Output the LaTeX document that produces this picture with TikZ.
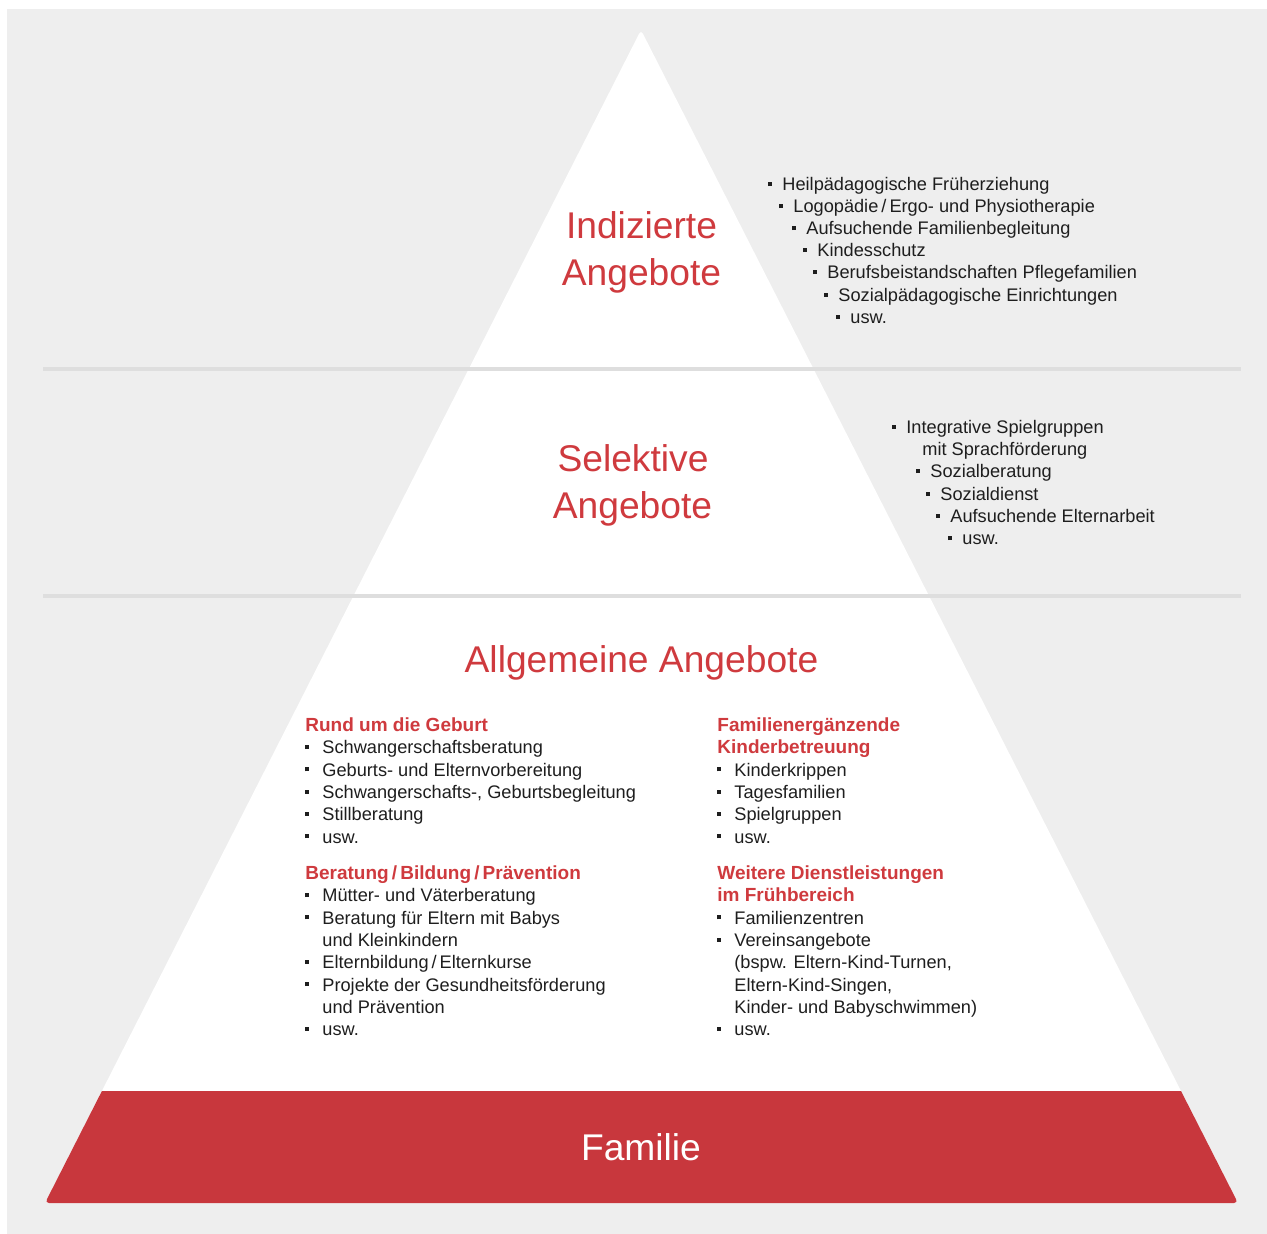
\documentclass[tikz,border=0pt]{standalone}
\usepackage{fontspec}
\setmainfont{Liberation Sans}
\usepackage{xcolor}

\definecolor{bandred}{HTML}{C8373D}
\definecolor{titlered}{HTML}{CF3A3E}
\definecolor{backgray}{HTML}{EEEEEE}
\definecolor{linegray}{HTML}{DEDEDE}
\definecolor{bodytext}{HTML}{1E1E1E}

% square bullets hanging left of the text
\newcommand\bul{\llap{\rule[2.4pt]{2pt}{2pt}\hspace{5pt}}}
\newcommand\bulw{\llap{\rule[2.4pt]{2pt}{2pt}\hspace{6.5pt}}}

\tikzset{
  tiertitle/.style={anchor=base, inner sep=0pt, text=titlered, font=\fontsize{18.6}{22}\selectfont},
  listitem/.style={anchor=base west, inner sep=0pt, text=bodytext, font=\fontsize{9.1}{11}\selectfont},
  listhead/.style={listitem, text=titlered, font=\fontsize{9.5}{11}\selectfont\bfseries},
}

\begin{document}
\begin{tikzpicture}[x=0.5pt, y=-0.5pt]
\useasboundingbox (0,0) rectangle (1267,1234);
\fill[backgray] (7,9) rectangle (1267,1234);

\coordinate (apex) at (641,30);
\coordinate (baseL) at (45,1203);
\coordinate (baseR) at (1238,1203);

\fill[white, rounded corners=2pt] (apex) -- (baseR) -- (baseL) -- cycle;
\begin{scope}
\clip[rounded corners=2pt] (apex) -- (baseR) -- (baseL) -- cycle;
\fill[bandred] (0,1091) rectangle (1267,1220);
\end{scope}

\draw[linegray, line width=2pt] (43,369) -- (1241,369);
\draw[linegray, line width=2pt] (43,596) -- (1241,596);

\node[tiertitle] (ind1) at (641.5,239) {Indizierte};
\node[tiertitle] (ind2) at (641.5,286) {Angebote};
\node[tiertitle] (sel1) at (633,472) {Selektive};
\node[tiertitle] (sel2) at (632.5,519) {Angebote};
\node[tiertitle] (allg) at (641.5,672) {Allgemeine Angebote};
\node[tiertitle, text=white] (fam) at (641,1160) {Familie};

\node[listitem] (ind-a) at (782,191) {\bul Heilpädagogische Früherziehung};
\node[listitem] (ind-b) at (793,213) {\bul Logopädie\,/\,Ergo- und Physiotherapie};
\node[listitem] (ind-c) at (806,235) {\bul Aufsuchende Familienbegleitung};
\node[listitem] (ind-d) at (817,257) {\bul Kindesschutz};
\node[listitem] (ind-e) at (827,279) {\bul Berufsbeistandschaften Pflegefamilien};
\node[listitem] (ind-f) at (838,301.5) {\bul Sozialpädagogische Einrichtungen};
\node[listitem] (ind-g) at (850,323.5) {\bul usw.};

\node[listitem] (sel-a) at (906,433.5) {\bul Integrative Spielgruppen};
\node[listitem] (sel-b) at (922,455.5) {mit Sprachförderung};
\node[listitem] (sel-c) at (930,478) {\bul Sozialberatung};
\node[listitem] (sel-d) at (940,500.5) {\bul Sozialdienst};
\node[listitem] (sel-e) at (950,522.5) {\bul Aufsuchende Elternarbeit};
\node[listitem] (sel-f) at (962,545) {\bul usw.};

\node[listhead] (geb) at (305,731.5) {Rund um die Geburt};
\node[listitem] (geb-a) at (322,753.8) {\bulw Schwangerschaftsberatung};
\node[listitem] (geb-b) at (322,776.1) {\bulw Geburts- und Elternvorbereitung};
\node[listitem] (geb-c) at (322,798.4) {\bulw Schwangerschafts-, Geburtsbegleitung};
\node[listitem] (geb-d) at (322,820.7) {\bulw Stillberatung};
\node[listitem] (geb-e) at (322,843) {\bulw usw.};

\node[listhead] (ber) at (305,879.5) {Beratung\,/\,Bildung\,/\,Prävention};
\node[listitem] (ber-a) at (322,901.8) {\bulw Mütter- und Väterberatung};
\node[listitem] (ber-b) at (322,924.1) {\bulw Beratung für Eltern mit Babys};
\node[listitem] (ber-c) at (322,946.4) {und Kleinkindern};
\node[listitem] (ber-d) at (322,968.7) {\bulw Elternbildung\,/\,Elternkurse};
\node[listitem] (ber-e) at (322,991) {\bulw Projekte der Gesundheitsförderung};
\node[listitem] (ber-f) at (322,1013.3) {und Prävention};
\node[listitem] (ber-g) at (322,1035.6) {\bulw usw.};

\node[listhead] (kib1) at (717,731.5) {Familienergänzende};
\node[listhead] (kib2) at (717,753.8) {Kinderbetreuung};
\node[listitem] (kib-a) at (734,776.1) {\bulw Kinderkrippen};
\node[listitem] (kib-b) at (734,798.4) {\bulw Tagesfamilien};
\node[listitem] (kib-c) at (734,820.7) {\bulw Spielgruppen};
\node[listitem] (kib-d) at (734,843) {\bulw usw.};

\node[listhead] (wei1) at (717,879.5) {Weitere Dienstleistungen};
\node[listhead] (wei2) at (717,901.8) {im Frühbereich};
\node[listitem] (wei-a) at (734,924.1) {\bulw Familienzentren};
\node[listitem] (wei-b) at (734,946.4) {\bulw Vereinsangebote};
\node[listitem] (wei-c) at (734,968.7) {(bspw. Eltern-Kind-Turnen,};
\node[listitem] (wei-d) at (734,991) {Eltern-Kind-Singen,};
\node[listitem] (wei-e) at (734,1013.3) {Kinder- und Babyschwimmen)};
\node[listitem] (wei-f) at (734,1035.6) {\bulw usw.};

\end{tikzpicture}
\end{document}
